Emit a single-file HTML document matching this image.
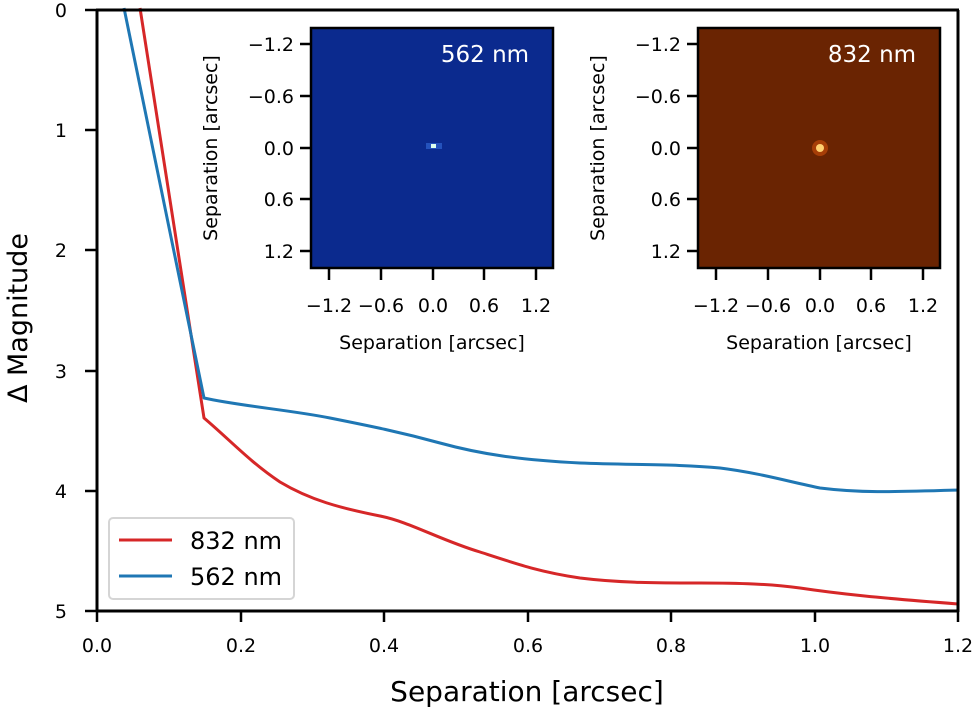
<!DOCTYPE html>
<html><head><meta charset="utf-8"><style>
body{margin:0;background:#fff;}
svg text{font-family:"DejaVu Sans","Liberation Sans",sans-serif;fill:#000}
</style></head><body>
<svg width="974" height="711" viewBox="0 0 974 711" xmlns="http://www.w3.org/2000/svg">
<rect width="974" height="711" fill="#fff"/>
<g fill="none" stroke-width="3" stroke-linejoin="round">
<path stroke="#d62728" d="M140,8 L204,418 C230,440 250,462 280,482 C310,500 340,508 380,516 C410,522 440,540 480,552 C520,565 540,572 580,578 C620,583 660,583 700,583 C740,583 770,584 800,588 C840,594 880,598 958,604"/>
<path stroke="#1f77b4" d="M124,8 L204,398 C240,406 290,410 330,418 C370,426 400,432 440,443 C480,454 520,460 580,463 C630,465 680,464 720,468 C760,473 790,482 820,488 C860,493 890,492 958,490"/>
</g>
<g stroke="#000" stroke-width="3" fill="none">
<line x1="97" y1="10" x2="97" y2="612"/>
<line x1="96" y1="611" x2="959" y2="611"/>
<line x1="96" y1="10" x2="959" y2="10"/>
<line x1="958" y1="10" x2="958" y2="612"/>
</g>
<g stroke="#000" stroke-width="2.5">
<line x1="97" y1="611" x2="97" y2="622"/><line x1="241" y1="611" x2="241" y2="622"/><line x1="384" y1="611" x2="384" y2="622"/><line x1="528" y1="611" x2="528" y2="622"/><line x1="671" y1="611" x2="671" y2="622"/><line x1="815" y1="611" x2="815" y2="622"/><line x1="958" y1="611" x2="958" y2="622"/>
<line x1="85" y1="10" x2="97" y2="10"/><line x1="85" y1="130" x2="97" y2="130"/><line x1="85" y1="250" x2="97" y2="250"/><line x1="85" y1="371" x2="97" y2="371"/><line x1="85" y1="491" x2="97" y2="491"/><line x1="85" y1="611" x2="97" y2="611"/>
</g>
<g font-size="19" text-anchor="middle">
<text x="97" y="652">0.0</text><text x="241" y="652">0.2</text><text x="384" y="652">0.4</text><text x="528" y="652">0.6</text><text x="671" y="652">0.8</text><text x="815" y="652">1.0</text><text x="958" y="652">1.2</text>
</g>
<g font-size="19" text-anchor="end">
<text x="67" y="17">0</text><text x="67" y="137">1</text><text x="67" y="257">2</text><text x="67" y="378">3</text><text x="67" y="498">4</text><text x="67" y="618">5</text>
</g>
<text x="527" y="701" font-size="28" text-anchor="middle">Separation [arcsec]</text>
<text transform="translate(27,318) rotate(-90)" font-size="27" text-anchor="middle">Δ Magnitude</text>
<rect x="109" y="518" width="185" height="81" rx="4" fill="#fff" stroke="#d5d5d5" stroke-width="2"/>
<line x1="119" y1="540" x2="172" y2="540" stroke="#d62728" stroke-width="3"/>
<line x1="119" y1="576" x2="172" y2="576" stroke="#1f77b4" stroke-width="3"/>
<text x="190" y="549" font-size="24">832 nm</text>
<text x="190" y="585" font-size="24">562 nm</text>
<rect x="311" y="28" width="242" height="240" fill="#0b2a8e" stroke="#000" stroke-width="2.5"/>
<rect x="426" y="143" width="16" height="6" fill="#2a5cc8" opacity="0.8"/>
<rect x="431" y="144" width="5" height="4" fill="#dfe"/>
<text x="485" y="62" font-size="23" text-anchor="middle" style="fill:#fff">562 nm</text>
<rect x="698" y="28" width="242" height="240" fill="#6a2402" stroke="#000" stroke-width="2.5"/>
<circle cx="820" cy="148" r="8" fill="#c24a0a" opacity="0.7"/>
<circle cx="820" cy="148" r="4" fill="#ffd070"/>
<text x="872" y="62" font-size="23" text-anchor="middle" style="fill:#fff">832 nm</text>
<g stroke="#000" stroke-width="2.5">
<line x1="300" y1="44" x2="311" y2="44"/><line x1="300" y1="96" x2="311" y2="96"/><line x1="300" y1="148" x2="311" y2="148"/><line x1="300" y1="199" x2="311" y2="199"/><line x1="300" y1="251" x2="311" y2="251"/>
<line x1="329" y1="268" x2="329" y2="280"/><line x1="381" y1="268" x2="381" y2="280"/><line x1="433" y1="268" x2="433" y2="280"/><line x1="484" y1="268" x2="484" y2="280"/><line x1="536" y1="268" x2="536" y2="280"/>
<line x1="687" y1="44" x2="698" y2="44"/><line x1="687" y1="96" x2="698" y2="96"/><line x1="687" y1="148" x2="698" y2="148"/><line x1="687" y1="199" x2="698" y2="199"/><line x1="687" y1="251" x2="698" y2="251"/>
<line x1="716" y1="268" x2="716" y2="280"/><line x1="768" y1="268" x2="768" y2="280"/><line x1="820" y1="268" x2="820" y2="280"/><line x1="871" y1="268" x2="871" y2="280"/><line x1="923" y1="268" x2="923" y2="280"/>
</g>
<g font-size="19" text-anchor="end">
<text x="294" y="51">−1.2</text><text x="294" y="103">−0.6</text><text x="294" y="155">0.0</text><text x="294" y="206">0.6</text><text x="294" y="258">1.2</text>
<text x="681" y="51">−1.2</text><text x="681" y="103">−0.6</text><text x="681" y="155">0.0</text><text x="681" y="206">0.6</text><text x="681" y="258">1.2</text>
</g>
<g font-size="19" text-anchor="middle">
<text x="329" y="312">−1.2</text><text x="381" y="312">−0.6</text><text x="433" y="312">0.0</text><text x="484" y="312">0.6</text><text x="536" y="312">1.2</text>
<text x="716" y="312">−1.2</text><text x="768" y="312">−0.6</text><text x="820" y="312">0.0</text><text x="871" y="312">0.6</text><text x="923" y="312">1.2</text>
<text x="432" y="349">Separation [arcsec]</text>
<text x="819" y="349">Separation [arcsec]</text>
<text transform="translate(217,148) rotate(-90)">Separation [arcsec]</text>
<text transform="translate(604,148) rotate(-90)">Separation [arcsec]</text>
</g>
</svg>
</body></html>
